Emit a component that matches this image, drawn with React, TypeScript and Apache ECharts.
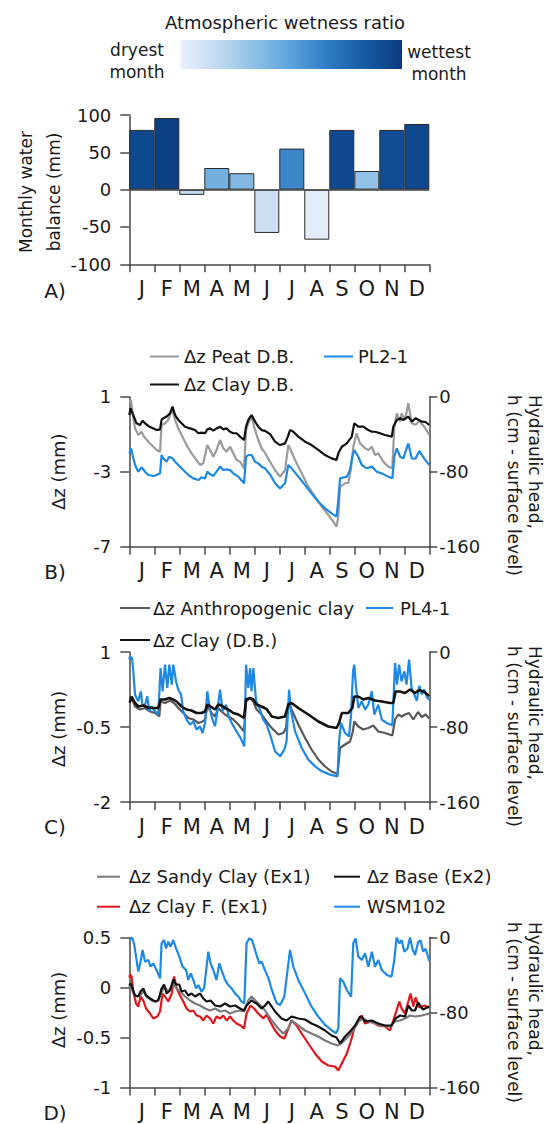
import React, { useEffect, useRef } from 'react';
import * as echarts from 'echarts';

const months = ['J', 'F', 'M', 'A', 'M', 'J', 'J', 'A', 'S', 'O', 'N', 'D'];
const waterBalance = [80, 96, -7, 29, 22, -58, 55, -67, 80, 25, 80, 88];
const wetness = [0.92, 0.97, 0.16, 0.42, 0.37, 0.12, 0.62, 0.02, 0.92, 0.32, 0.9, 0.93];
const wetnessStops = ['#e8f1fb', '#c2daf0', '#8ec0e6', '#5aa2da', '#2f7cc4', '#155aa3', '#0a3a7d'];

const leftTicksB = { min: -7, max: 1, interval: 4 };
const leftTicksC = { min: -2, max: 1, interval: 1.5 };
const leftTicksD = { min: -1, max: 0.5, interval: 0.5 };
const headTicks = { min: -160, max: 0, interval: 80 };

// Panel B
const peatB: [number, number][] = [[0,0.74],[0.07,0.82],[0.13,0.11],[0.23,-0.69],[0.36,-1.04],[0.49,-0.87],[0.59,-1.13],[0.76,-1.40],[0.96,-1.67],[1.09,-1.84],[1.23,-1.93],[1.29,-0.51],[1.43,-0.42],[1.56,-0.24],[1.65,0.11],[1.73,0.29],[1.83,-0.24],[1.96,-0.69],[2.09,-1.04],[2.29,-1.58],[2.49,-2.02],[2.69,-2.38],[2.83,-2.64],[2.96,-2.55],[3.12,-1.58],[3.23,-1.84],[3.36,-2.20],[3.49,-1.84],[3.63,-1.31],[3.76,-1.75],[3.89,-1.93],[4.03,-1.67],[4.16,-2.02],[4.29,-2.38],[4.43,-2.47],[4.59,-2.82],[4.67,-0.78],[4.76,-0.42],[4.89,-0.06],[5.03,-0.78],[5.16,-1.31],[5.29,-1.75],[5.43,-2.0],[5.63,-2.47],[5.83,-2.91],[6.03,-3.27],[6.23,-2.91],[6.36,-1.58],[6.43,-1.75],[6.63,-2.38],[6.90,-3.09],[7.16,-3.80],[7.43,-4.33],[7.70,-4.87],[7.96,-5.31],[8.16,-5.66],[8.29,-5.93],[8.36,-5.40],[8.43,-3.80],[8.63,-3.62],[8.76,-3.59],[8.86,-2.91],[8.96,-1.67],[9.09,-0.96],[9.23,-1.49],[9.43,-1.75],[9.56,-1.84],[9.70,-1.67],[9.83,-2.11],[9.96,-2.02],[10.16,-2.47],[10.36,-2.73],[10.52,-2.82],[10.60,-0.60],[10.70,0.11],[10.83,-0.33],[10.89,0.11],[11.03,-0.24],[11.16,0.65],[11.30,-0.42],[11.45,-0.5],[11.6,-0.3],[11.8,-0.6],[12.0,-1.04]];
const clayB: [number, number][] = [[0,0.02],[0.05,0.38],[0.16,0.02],[0.29,-0.42],[0.43,-0.51],[0.53,-0.28],[0.63,-0.42],[0.76,-0.56],[0.96,-0.69],[1.09,-0.78],[1.23,-0.74],[1.29,-0.24],[1.36,-0.15],[1.49,-0.06],[1.63,0.11],[1.73,0.47],[1.83,0.02],[1.96,-0.24],[2.09,-0.42],[2.23,-0.60],[2.43,-0.69],[2.63,-0.78],[2.76,-0.95],[2.89,-0.92],[3.03,-0.95],[3.12,-0.74],[3.23,-0.69],[3.36,-0.81],[3.49,-0.69],[3.63,-0.60],[3.76,-0.74],[3.89,-0.69],[4.03,-0.87],[4.16,-0.95],[4.29,-0.95],[4.43,-1.13],[4.59,-1.31],[4.67,-0.60],[4.76,-0.24],[4.89,0.02],[5.03,-0.33],[5.16,-0.60],[5.29,-0.78],[5.43,-0.82],[5.63,-1.0],[5.83,-1.40],[6.03,-1.58],[6.23,-1.49],[6.34,-1.13],[6.43,-0.78],[6.56,-0.87],[6.76,-1.13],[7.03,-1.40],[7.29,-1.58],[7.56,-1.84],[7.83,-2.11],[8.09,-2.29],[8.29,-2.38],[8.36,-2.02],[8.50,-1.67],[8.70,-1.49],[8.90,-1.13],[9.00,-0.42],[9.16,-0.60],[9.36,-0.60],[9.56,-0.78],[9.70,-0.87],[9.83,-0.87],[10.03,-0.95],[10.23,-1.04],[10.50,-1.13],[10.56,-0.60],[10.70,-0.24],[10.83,-0.15],[10.96,-0.24],[11.16,-0.06],[11.30,-0.33],[11.45,-0.15],[11.7,-0.33],[11.85,-0.35],[12.0,-0.51]];
const pl21: [number, number][] = [[0,-60.4],[0.07,-55.1],[0.13,-62.2],[0.23,-72.9],[0.36,-80],[0.49,-75.3],[0.63,-80],[0.76,-83.5],[0.96,-84.6],[1.09,-83.5],[1.23,-81.7],[1.29,-62.2],[1.36,-65.8],[1.49,-69.3],[1.60,-64],[1.73,-65.8],[1.83,-69.3],[1.96,-72.9],[2.16,-78.2],[2.36,-83.5],[2.56,-87.1],[2.76,-88.9],[2.89,-86],[3.03,-87.1],[3.12,-80],[3.23,-82.5],[3.36,-84.6],[3.49,-80],[3.63,-74.6],[3.76,-78.2],[3.89,-77.5],[4.03,-78.2],[4.16,-81.8],[4.36,-85.3],[4.59,-92.4],[4.67,-64],[4.76,-62.2],[4.89,-62.2],[5.03,-69.3],[5.16,-71.1],[5.29,-74.6],[5.43,-76.4],[5.63,-83],[5.83,-92.4],[6.03,-97.8],[6.23,-92.4],[6.36,-72.9],[6.49,-76.4],[6.76,-85.3],[7.03,-94.2],[7.29,-103.1],[7.56,-112],[7.83,-119.1],[8.09,-124.4],[8.29,-128],[8.36,-110.2],[8.43,-87.1],[8.70,-85.3],[8.83,-78.2],[8.92,-64],[9.00,-56.9],[9.16,-64],[9.30,-72.9],[9.50,-76.4],[9.70,-74.6],[9.90,-80],[10.10,-81.8],[10.36,-85.3],[10.52,-87.1],[10.60,-64],[10.70,-55.1],[10.83,-64],[10.96,-65.8],[11.16,-49.8],[11.30,-65.8],[11.45,-66],[11.6,-58],[11.8,-66],[12.0,-73]];

// Panel C
const anthroC: [number, number][] = [[0,-0.02],[0.09,0.08],[0.23,-0.09],[0.43,-0.15],[0.63,-0.12],[0.83,-0.19],[1.03,-0.22],[1.20,-0.29],[1.25,0.01],[1.43,-0.02],[1.63,0.03],[1.79,-0.02],[1.96,-0.12],[2.16,-0.22],[2.36,-0.32],[2.56,-0.35],[2.76,-0.42],[2.93,-0.39],[3.03,-0.35],[3.12,-0.09],[3.29,-0.22],[3.43,-0.29],[3.56,-0.12],[3.69,-0.19],[3.83,-0.25],[3.96,-0.29],[4.16,-0.35],[4.36,-0.45],[4.59,-0.59],[4.67,0.01],[4.83,0.08],[4.96,0.01],[5.09,-0.15],[5.29,-0.25],[5.43,-0.35],[5.56,-0.44],[5.70,-0.52],[5.96,-0.65],[6.16,-0.62],[6.27,-0.52],[6.36,-0.02],[6.49,-0.15],[6.76,-0.45],[7.03,-0.72],[7.29,-0.95],[7.56,-1.15],[7.83,-1.29],[8.09,-1.39],[8.33,-1.44],[8.43,-0.92],[8.63,-0.85],[8.83,-0.79],[8.94,-0.59],[9.00,-0.39],[9.16,-0.49],[9.36,-0.55],[9.56,-0.52],[9.76,-0.47],[9.96,-0.59],[10.23,-0.62],[10.52,-0.67],[10.63,-0.35],[10.76,-0.25],[10.89,-0.29],[11.03,-0.25],[11.19,-0.22],[11.36,-0.35],[11.55,-0.2],[11.7,-0.3],[11.85,-0.25],[12.0,-0.33]];
const clayC: [number, number][] = [[0,0.0],[0.03,0.01],[0.09,0.11],[0.23,-0.02],[0.36,-0.09],[0.56,-0.07],[0.76,-0.11],[0.96,-0.12],[1.16,-0.12],[1.25,0.05],[1.43,0.05],[1.60,0.08],[1.76,0.05],[1.89,0.01],[2.09,-0.09],[2.29,-0.15],[2.49,-0.17],[2.69,-0.22],[2.89,-0.22],[3.03,-0.19],[3.12,-0.05],[3.25,-0.09],[3.43,-0.15],[3.56,-0.05],[3.69,-0.07],[3.83,-0.12],[3.96,-0.15],[4.16,-0.22],[4.36,-0.25],[4.59,-0.32],[4.67,0.05],[4.83,0.08],[4.96,0.05],[5.09,-0.05],[5.29,-0.09],[5.49,-0.14],[5.70,-0.29],[5.96,-0.32],[6.23,-0.29],[6.36,-0.05],[6.49,-0.02],[6.76,-0.12],[7.16,-0.25],[7.56,-0.39],[7.96,-0.49],[8.29,-0.52],[8.39,-0.42],[8.50,-0.22],[8.76,-0.22],[8.92,-0.12],[9.00,0.11],[9.16,0.11],[9.36,0.05],[9.56,0.08],[9.83,0.03],[10.10,0.01],[10.43,-0.02],[10.56,-0.02],[10.65,0.21],[10.83,0.21],[11.03,0.18],[11.23,0.25],[11.43,0.18],[11.6,0.24],[11.8,0.2],[12.0,0.12]];
const pl41: [number, number][] = [[0,-8],[0.03,-4.6],[0.11,-6.4],[0.16,-20.6],[0.23,-45.5],[0.36,-52.6],[0.46,-42],[0.53,-58],[0.63,-56.2],[0.72,-47.3],[0.80,-63.3],[0.89,-58],[1.03,-63.3],[1.16,-66.8],[1.25,-17.1],[1.33,-42],[1.43,-13.5],[1.52,-38.4],[1.60,-13.5],[1.70,-34.8],[1.76,-13.5],[1.87,-31.3],[1.96,-40.2],[2.07,-45.5],[2.16,-63.3],[2.29,-72.2],[2.43,-77.5],[2.56,-74],[2.69,-82.8],[2.83,-79.3],[2.93,-86.4],[3.03,-75.7],[3.12,-42],[3.23,-61.5],[3.33,-72.2],[3.43,-79.3],[3.52,-63.3],[3.63,-40.2],[3.73,-63.3],[3.87,-56.2],[4.00,-70.4],[4.13,-77.5],[4.29,-84.6],[4.45,-91.7],[4.60,-100.6],[4.67,-13.5],[4.76,-38.4],[4.83,-17.1],[4.89,-42],[4.96,-17.1],[5.07,-52.6],[5.20,-59.7],[5.36,-72.2],[5.49,-77.5],[5.63,-88],[5.83,-106],[6.03,-111.3],[6.20,-104.2],[6.29,-95.3],[6.39,-40.2],[6.47,-63.3],[6.63,-84.6],[6.90,-102.4],[7.16,-114.8],[7.43,-122],[7.70,-127.3],[8.03,-130.8],[8.33,-132.6],[8.39,-95.3],[8.47,-75.7],[8.63,-86.4],[8.79,-90],[8.87,-66.8],[8.95,-20.6],[9.00,-13.5],[9.06,-34.8],[9.16,-59.7],[9.30,-52.6],[9.43,-61.5],[9.56,-56.2],[9.70,-42],[9.80,-66.8],[9.96,-56.2],[10.10,-72.2],[10.30,-75.7],[10.52,-78.2],[10.63,-11.7],[10.71,-34.8],[10.79,-13.5],[10.89,-31.3],[11.00,-20.6],[11.09,-34.8],[11.19,-8.2],[11.29,-38.4],[11.40,-45.5],[11.5,-52],[11.6,-36],[11.7,-45],[11.8,-40],[11.9,-48],[12.0,-51]];

// Panel D
const sandyD: [number, number][] = [[0,0.0],[0.05,0.03],[0.16,-0.06],[0.29,-0.09],[0.43,-0.08],[0.56,-0.04],[0.69,-0.09],[0.89,-0.13],[1.09,-0.14],[1.25,-0.08],[1.39,0.01],[1.56,-0.04],[1.76,0.04],[1.90,-0.01],[2.03,-0.04],[2.23,-0.09],[2.43,-0.13],[2.63,-0.16],[2.83,-0.18],[3.03,-0.21],[3.23,-0.23],[3.43,-0.21],[3.63,-0.24],[3.83,-0.23],[4.03,-0.26],[4.23,-0.24],[4.43,-0.23],[4.59,-0.24],[4.76,-0.13],[4.89,-0.09],[5.09,-0.14],[5.29,-0.19],[5.43,-0.23],[5.70,-0.33],[5.96,-0.41],[6.16,-0.46],[6.36,-0.41],[6.49,-0.33],[6.76,-0.38],[7.03,-0.43],[7.29,-0.46],[7.56,-0.49],[7.83,-0.53],[8.09,-0.56],[8.36,-0.58],[8.56,-0.54],[8.76,-0.49],[8.96,-0.43],[9.16,-0.34],[9.36,-0.31],[9.56,-0.34],[9.83,-0.36],[10.10,-0.38],[10.43,-0.39],[10.63,-0.34],[10.83,-0.33],[11.03,-0.31],[11.23,-0.28],[11.43,-0.29],[11.7,-0.28],[12.0,-0.26]];
const baseD: [number, number][] = [[0,0.02],[0.05,0.04],[0.13,-0.01],[0.23,-0.08],[0.36,-0.09],[0.45,-0.04],[0.56,-0.01],[0.67,-0.08],[0.83,-0.11],[1.03,-0.14],[1.16,-0.13],[1.29,-0.01],[1.39,0.03],[1.49,-0.06],[1.63,-0.03],[1.76,0.08],[1.87,0.03],[2.00,0.03],[2.09,-0.04],[2.23,-0.03],[2.36,-0.08],[2.49,-0.06],[2.63,-0.09],[2.83,-0.06],[2.96,-0.11],[3.09,-0.14],[3.25,-0.13],[3.43,-0.18],[3.63,-0.19],[3.83,-0.16],[4.03,-0.19],[4.23,-0.18],[4.43,-0.21],[4.59,-0.23],[4.69,-0.18],[4.89,-0.13],[5.09,-0.16],[5.29,-0.21],[5.43,-0.18],[5.56,-0.14],[5.83,-0.24],[6.09,-0.31],[6.29,-0.33],[6.49,-0.29],[6.76,-0.31],[7.03,-0.32],[7.29,-0.36],[7.56,-0.39],[7.83,-0.43],[8.09,-0.48],[8.29,-0.50],[8.43,-0.56],[8.63,-0.49],[8.83,-0.44],[9.03,-0.38],[9.23,-0.29],[9.32,-0.30],[9.43,-0.34],[9.70,-0.33],[9.96,-0.36],[10.23,-0.38],[10.49,-0.38],[10.65,-0.31],[10.83,-0.28],[11.03,-0.29],[11.16,-0.18],[11.30,-0.23],[11.43,-0.23],[11.55,-0.15],[11.75,-0.22],[12.0,-0.19]];
const clayFD: [number, number][] = [[0,0.1],[0.03,0.13],[0.09,0.11],[0.16,-0.04],[0.27,-0.16],[0.36,-0.19],[0.45,-0.09],[0.56,-0.13],[0.67,-0.21],[0.83,-0.26],[0.96,-0.31],[1.12,-0.29],[1.23,-0.24],[1.33,-0.06],[1.43,-0.09],[1.56,-0.14],[1.70,-0.06],[1.79,0.11],[1.90,-0.01],[2.03,-0.08],[2.16,-0.14],[2.29,-0.21],[2.43,-0.24],[2.56,-0.23],[2.69,-0.28],[2.83,-0.29],[2.96,-0.33],[3.09,-0.28],[3.23,-0.31],[3.36,-0.36],[3.49,-0.29],[3.63,-0.31],[3.76,-0.28],[3.89,-0.33],[4.03,-0.29],[4.16,-0.33],[4.29,-0.36],[4.45,-0.38],[4.59,-0.41],[4.69,-0.26],[4.85,-0.18],[4.99,-0.21],[5.16,-0.26],[5.36,-0.31],[5.50,-0.27],[5.63,-0.34],[5.83,-0.43],[6.03,-0.49],[6.20,-0.51],[6.33,-0.43],[6.49,-0.33],[6.69,-0.38],[6.89,-0.46],[7.16,-0.56],[7.43,-0.66],[7.70,-0.74],[7.96,-0.78],[8.23,-0.79],[8.36,-0.83],[8.50,-0.76],[8.70,-0.66],[8.87,-0.53],[9.00,-0.41],[9.16,-0.34],[9.30,-0.28],[9.43,-0.36],[9.70,-0.34],[9.96,-0.38],[10.23,-0.39],[10.43,-0.43],[10.56,-0.33],[10.69,-0.23],[10.80,-0.14],[10.89,-0.21],[11.03,-0.26],[11.16,-0.14],[11.25,-0.06],[11.36,-0.19],[11.45,-0.1],[11.6,-0.2],[11.8,-0.18],[12.0,-0.2]];
const wsm102: [number, number][] = [[0,-2.7],[0.11,0],[0.19,-6.2],[0.27,-20.4],[0.36,-36.4],[0.45,-25.8],[0.53,-13.3],[0.63,-25.8],[0.76,-24],[0.85,-31.1],[0.96,-27.6],[1.09,-34.7],[1.23,-43.6],[1.29,-6.2],[1.39,-2.7],[1.47,-11.6],[1.56,-4.4],[1.65,-9.8],[1.76,-2.7],[1.87,-11.6],[2.00,-20.4],[2.13,-31.1],[2.27,-34.7],[2.36,-45.3],[2.46,-38.2],[2.56,-45.3],[2.67,-54.2],[2.76,-50.7],[2.89,-57.8],[2.99,-54.2],[3.07,-36.4],[3.16,-15.1],[3.25,-27.6],[3.36,-34.7],[3.49,-45.3],[3.60,-27.6],[3.69,-34.7],[3.83,-45.3],[3.96,-50.7],[4.09,-54.2],[4.23,-59.6],[4.36,-63.1],[4.49,-68.4],[4.60,-70.2],[4.69,-6.2],[4.80,-0.9],[4.91,-2.7],[4.99,-9.8],[5.09,-18.7],[5.20,-27.6],[5.29,-25.8],[5.43,-35],[5.56,-43],[5.70,-56],[5.90,-70.2],[6.03,-72],[6.20,-63.1],[6.33,-34.7],[6.43,-13.3],[6.56,-31.1],[6.76,-45.3],[7.03,-59.6],[7.29,-73.8],[7.56,-84.4],[7.83,-93.3],[8.09,-98.7],[8.27,-102.2],[8.36,-96.9],[8.43,-43.6],[8.56,-47.1],[8.70,-56],[8.87,-63.1],[8.96,-6.2],[9.05,-0.9],[9.16,-20.4],[9.30,-24],[9.43,-16.9],[9.56,-31.1],[9.70,-15.1],[9.83,-31.1],[9.96,-24],[10.10,-34.7],[10.30,-40],[10.49,-41.8],[10.60,-24],[10.69,0],[10.80,-6.2],[10.89,-2.7],[11.00,-15.1],[11.13,-11.6],[11.23,0],[11.32,-11.6],[11.43,-18.7],[11.55,-5],[11.65,-3],[11.75,-15],[11.85,-12],[12.0,-25]];

const FONT = 'DejaVu Sans';
const AX = '#4a4a4a';
const TXT = '#1a1a1a';

const GRID_LEFT = 129.3;
const GRID_W = 300;
const grids = [
  { top: 115, height: 149.3 },
  { top: 396.7, height: 150 },
  { top: 652, height: 150 },
  { top: 937.5, height: 150 },
];

function catAxis(gridIndex: number) {
  return {
    type: 'category', gridIndex, data: months, boundaryGap: true,
    axisLine: { onZero: false, lineStyle: { color: AX, width: 1.5 } },
    axisTick: { show: true, interval: 0, length: 8, lineStyle: { color: AX, width: 1.5 } },
    axisLabel: { interval: 0, margin: 14, fontSize: 21, color: TXT, fontFamily: FONT },
    splitLine: { show: false },
  };
}
function hiddenX(gridIndex: number) {
  return { type: 'value', gridIndex, min: 0, max: 12, show: false };
}
function leftY(gridIndex: number, t: { min: number; max: number; interval: number }) {
  return {
    type: 'value', gridIndex, position: 'left', min: t.min, max: t.max, interval: t.interval,
    axisLine: { show: true, onZero: false, lineStyle: { color: AX, width: 1.5 } },
    axisTick: { show: true, length: 9, lineStyle: { color: AX, width: 1.5 } },
    axisLabel: { margin: 18, fontSize: 18, color: TXT, fontFamily: FONT },
    splitLine: { show: false },
  };
}
function rightY(gridIndex: number) {
  return {
    type: 'value', gridIndex, position: 'right', min: headTicks.min, max: headTicks.max, interval: headTicks.interval,
    axisLine: { show: true, onZero: false, lineStyle: { color: AX, width: 1.5 } },
    axisTick: { show: true, length: 8, lineStyle: { color: AX, width: 1.5 } },
    axisLabel: { margin: 10, fontSize: 18, color: TXT, fontFamily: FONT },
    splitLine: { show: false },
  };
}
function lineSeries(name: string, data: [number, number][], xAxisIndex: number, yAxisIndex: number, color: string, width = 2.2) {
  return {
    type: 'line', name, data, xAxisIndex, yAxisIndex, showSymbol: false, symbol: 'none',
    lineStyle: { color, width }, itemStyle: { color }, silent: true,
  };
}

function txt(text: string, x: number, y: number, opts: any = {}) {
  const align = opts.align || 'left';
  return {
    type: 'text', x, y, rotation: opts.rotation || 0, silent: true,
    style: {
      text, x: 0, y: 0,
      font: `${opts.size || 18}px "${FONT}"`,
      fill: opts.color || TXT,
      align, textAlign: align,
      verticalAlign: 'middle', textVerticalAlign: 'middle',
      lineHeight: opts.lineHeight,
    },
  };
}
function legLine(x1: number, x2: number, y: number, color: string) {
  return { type: 'line', silent: true, shape: { x1, y1: y, x2, y2: y }, style: { stroke: color, lineWidth: 2 } };
}

const C_PEAT = '#9b9b9b';
const C_BLACK = '#111111';
const C_BLUE = '#1e88e5';
const C_ANTH = '#585858';
const C_SANDY = '#7a7a7a';
const C_RED = '#e3161b';

export default function App() {
  const ref = useRef<HTMLDivElement>(null);
  useEffect(() => {
    if (!ref.current) return;
    const chart = echarts.init(ref.current, null, { renderer: 'svg' });

    const graphic: any[] = [
      txt('Atmospheric wetness ratio', 285, 22, { align: 'center', size: 18 }),
      {
        type: 'rect', silent: true,
        shape: { x: 180.4, y: 40, width: 221.6, height: 29 },
        style: {
          fill: new echarts.graphic.LinearGradient(0, 0, 1, 0,
            wetnessStops.map((c, i) => ({ offset: i / (wetnessStops.length - 1), color: c }))),
        },
      },
      txt('dryest\nmonth', 137, 61, { align: 'center', size: 17, lineHeight: 22 }),
      txt('wettest\nmonth', 439, 63, { align: 'center', size: 17, lineHeight: 22 }),
      // panel A
      txt('Monthly water\nbalance (mm)', 40, 192, { align: 'center', size: 17, lineHeight: 28, rotation: Math.PI / 2 }),
      txt('A)', 55, 291, { align: 'center', size: 20 }),
      // panel B
      legLine(150, 179, 356.5, C_PEAT), txt('Δz Peat D.B.', 184, 356.5),
      legLine(324, 353, 356.5, C_BLUE), txt('PL2-1', 358, 356.5),
      legLine(150, 179, 384.5, C_BLACK), txt('Δz Clay D.B.', 184, 384.5),
      txt('Δz (mm)', 58, 471.7, { align: 'center', size: 18, rotation: Math.PI / 2 }),
      txt('Hydraulic head,', 535, 395, { size: 17, rotation: -Math.PI / 2 }),
      txt('h (cm - surface level)', 514, 395, { size: 17, rotation: -Math.PI / 2 }),
      txt('B)', 55, 572, { align: 'center', size: 20 }),
      // panel C
      legLine(120, 150, 608, C_ANTH), txt('Δz Anthropogenic clay', 153, 608),
      legLine(366, 393, 608, C_BLUE), txt('PL4-1', 400, 608),
      legLine(120, 150, 640, C_BLACK), txt('Δz Clay (D.B.)', 153, 640),
      txt('Δz (mm)', 58, 729, { align: 'center', size: 18, rotation: Math.PI / 2 }),
      txt('Hydraulic head,', 535, 646, { size: 17, rotation: -Math.PI / 2 }),
      txt('h (cm - surface level)', 514, 646, { size: 17, rotation: -Math.PI / 2 }),
      txt('C)', 55, 827, { align: 'center', size: 20 }),
      // panel D
      legLine(97, 120, 876.7, C_SANDY), txt('Δz Sandy Clay (Ex1)', 129, 876.7),
      legLine(334, 360, 876.7, C_BLACK), txt('Δz Base (Ex2)', 367, 876.7),
      legLine(97, 120, 906.7, C_RED), txt('Δz Clay F. (Ex1)', 129, 906.7),
      legLine(334, 360, 906.7, C_BLUE), txt('WSM102', 367, 906.7),
      txt('Δz (mm)', 58, 1010, { align: 'center', size: 18, rotation: Math.PI / 2 }),
      txt('Hydraulic head,', 535, 922, { size: 17, rotation: -Math.PI / 2 }),
      txt('h (cm - surface level)', 514, 922, { size: 17, rotation: -Math.PI / 2 }),
      txt('D)', 55, 1113, { align: 'center', size: 20 }),
    ];

    const option: any = {
      animation: false,
      backgroundColor: '#ffffff',
      textStyle: { fontFamily: FONT },
      grid: grids.map((g) => ({ left: GRID_LEFT, width: GRID_W, top: g.top, height: g.height, containLabel: false })),
      xAxis: [
        catAxis(0),
        catAxis(1), hiddenX(1),
        catAxis(2), hiddenX(2),
        catAxis(3), hiddenX(3),
      ],
      yAxis: [
        {
          type: 'value', gridIndex: 0, min: -100, max: 100, interval: 50,
          axisLine: { show: true, onZero: false, lineStyle: { color: AX, width: 1.5 } },
          axisTick: { show: true, length: 9, lineStyle: { color: AX, width: 1.5 } },
          axisLabel: { margin: 18, fontSize: 18, color: TXT, fontFamily: FONT },
          splitLine: { show: false },
        },
        leftY(1, leftTicksB), rightY(1),
        leftY(2, leftTicksC), rightY(2),
        leftY(3, leftTicksD), rightY(3),
      ],
      visualMap: [{
        type: 'continuous', show: false, seriesIndex: 0, dimension: 2,
        min: 0, max: 1, inRange: { color: wetnessStops },
      }],
      series: [
        {
          type: 'bar', name: 'Monthly water balance', xAxisIndex: 0, yAxisIndex: 0,
          data: months.map((m, i) => [i, waterBalance[i], wetness[i]]),
          encode: { x: 0, y: 1 },
          barCategoryGap: '0%',
          itemStyle: { borderColor: '#2a2a2a', borderWidth: 1 },
          markLine: {
            silent: true, symbol: 'none', label: { show: false },
            lineStyle: { color: '#444', width: 1.5, type: 'solid' },
            data: [{ yAxis: 0 }],
          },
        },
        lineSeries('Δz Peat D.B.', peatB, 2, 1, C_PEAT),
        lineSeries('PL2-1', pl21, 2, 2, C_BLUE),
        lineSeries('Δz Clay D.B.', clayB, 2, 1, C_BLACK),
        lineSeries('Δz Anthropogenic clay', anthroC, 4, 3, C_ANTH),
        lineSeries('PL4-1', pl41, 4, 4, C_BLUE),
        lineSeries('Δz Clay (D.B.)', clayC, 4, 3, C_BLACK, 2.6),
        lineSeries('Δz Clay F. (Ex1)', clayFD, 6, 5, C_RED),
        lineSeries('Δz Sandy Clay (Ex1)', sandyD, 6, 5, C_SANDY),
        lineSeries('WSM102', wsm102, 6, 6, C_BLUE),
        lineSeries('Δz Base (Ex2)', baseD, 6, 5, C_BLACK),
      ],
      graphic,
    };
    chart.setOption(option);
    return () => chart.dispose();
  }, []);
  return (
    <div
      ref={ref}
      style={{ position: 'absolute', left: 0, top: 0, width: 546, height: 1124, background: '#fff' }}
    />
  );
}
